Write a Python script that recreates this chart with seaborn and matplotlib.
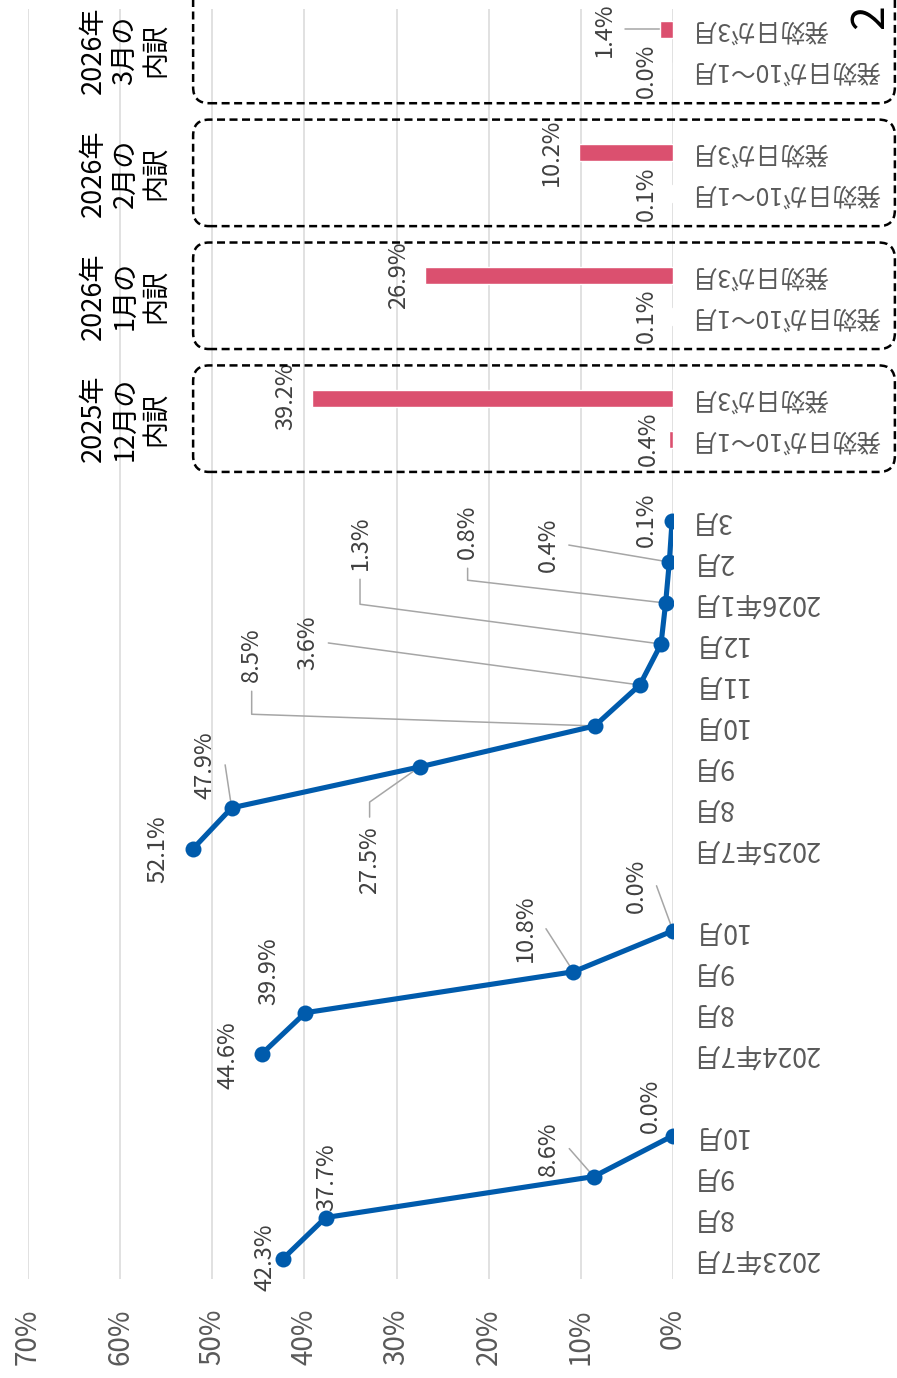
import numpy as np
import pandas as pd
import matplotlib
matplotlib.use("Agg")
import matplotlib.pyplot as plt
import seaborn as sns
from matplotlib.patches import FancyBboxPatch
from matplotlib.transforms import IdentityTransform

# category slots along the vertical axis, bottom to top ("" = empty slot)
categories = ["2023年7月", "8月", "9月", "10月", "",
              "2024年7月", "8月", "9月", "10月", "",
              "2025年7月", "8月", "9月", "10月", "11月", "12月", "2026年1月", "2月", "3月", "",
              "発効日が10〜1月", "発効日が3月", "",
              "発効日が10〜1月", "発効日が3月", "",
              "発効日が10〜1月", "発効日が3月", "",
              "発効日が10〜1月", "発効日が3月"]

series_names = ["2023", "2024", "2025"]
line_2023 = [42.3, 37.7, 8.6, 0.0]
line_2024 = [44.6, 39.9, 10.8, 0.0]
line_2025 = [52.1, 47.9, 27.5, 8.5, 3.6, 1.3, 0.8, 0.4, 0.1]

group_labels = ["2025年\n12月の\n内訳", "2026年\n1月の\n内訳", "2026年\n2月の\n内訳", "2026年\n3月の\n内訳"]
bar_early = [0.4, 0.1, 0.1, 0.0]     # 発効日が10〜1月
bar_march = [39.2, 26.9, 10.2, 1.4]  # 発効日が3月

value_ticks = [0, 10, 20, 30, 40, 50, 60, 70]

BLUE = "#005bac"
PINK = "#db506f"
GRID = "#d9d9d9"
LEADER = "#a6a6a6"

# label layout: pixel offset (right, down) from the point, leader type, stub length
line_label_layout = [
    (-18, -1, None, 0), (1, -40, None, 0), (-45, -28, "right", 0), (-23, -30, None, 0),
    (-34, 2, None, 0), (-37, -42, None, 0), (-48, -43, "right", 0), (-37, -45, "right", 0),
    (-35, 0, None, 0), (-27, -43, "right", 0), (-50, 93, "top", 15), (-343, -71, "bottom", 23),
    (-332, -42, "right", 0), (-301, -101, "bottom", 25), (-198, -71, "bottom", 12),
    (-121, -17, "right", 0), (-26, -1, None, 0),
]
bar_label_layout = [
    (-21, 0, None, 0), (-26, -2, None, 0), (-26, 0, None, 0), (-27, 0, None, 0),
    (-26, 0, None, 0), (-28, 0, None, 0), (-27, 0, None, 0), (-56, 0, "right", 0),
]

# build tables
slots = [i for i, c in enumerate(categories) if c]
line_vals = line_2023 + line_2024 + line_2025
line_series = (["2023"] * len(line_2023) + ["2024"] * len(line_2024) + ["2025"] * len(line_2025))
df_line = pd.DataFrame({"slot": slots[:len(line_vals)], "value": line_vals, "series": line_series})

bar_vals = [v for pair in zip(bar_early, bar_march) for v in pair]
df_bar = pd.DataFrame({"slot": slots[len(line_vals):], "value": bar_vals})

sns.set_theme(style="white")
plt.rcParams["font.family"] = ["Noto Sans CJK JP", "DejaVu Sans"]

W, H = 897, 1378
fig = plt.figure(figsize=(W / 100, H / 100), dpi=100)
ax = fig.add_axes([28 / W, 1 - 1279 / H, (673 - 28) / W, (1279 - 9) / H])

sns.barplot(data=df_bar, x="value", y="slot", orient="y", native_scale=True,
            color=PINK, saturation=1, width=0.42, errorbar=None, ax=ax, zorder=3)
sns.lineplot(data=df_line, x="value", y="slot", hue="series", orient="y",
             palette={s: BLUE for s in series_names}, sort=False, estimator=None,
             marker="o", markersize=11.5, markeredgewidth=0, linewidth=3.7,
             legend=False, ax=ax, zorder=4)

ax.set_xlim(70, 0)
ax.set_ylim(-0.5, len(categories) - 0.5)
for s in ax.spines.values():
    s.set_visible(False)
ax.set_xticks(value_ticks)
ax.set_xticklabels([f"{v}%" for v in value_ticks])
ax.grid(axis="x", color=GRID, linewidth=1.1)
ax.grid(axis="y", visible=False)
ax.set_axisbelow(True)
ax.set_xlabel("")
ax.set_ylabel("")
ax.tick_params(axis="x", length=0, pad=21, labelsize=20, labelcolor="#595959", labelrotation=90)

ax.yaxis.tick_right()
ax.set_yticks(slots)
ax.set_yticklabels([c for c in categories if c])
ax.tick_params(axis="y", length=0, pad=13, labelsize=19.3, labelcolor="#595959")
for lab in ax.get_yticklabels():
    lab.set_rotation(180)
    lab.set_ha("left")
    lab.set_va("center")
    if lab.get_text().startswith("発効日"):
        lab.set_fontsize(17.8)

# data labels
label_items = []
for (s, v), lay in zip(zip(df_line["slot"], df_line["value"]), line_label_layout):
    label_items.append((s, v, lay))
for (s, v), lay in zip(zip(df_bar["slot"], df_bar["value"]), bar_label_layout):
    label_items.append((s, v, lay))

texts = []
for s, v, (dx, dy, kind, stub) in label_items:
    t = ax.annotate(f"{v:.1f}%", xy=(v, s), xytext=(dx, -dy), textcoords="offset pixels",
                    rotation=90, ha="center", va="center", fontsize=17, color="#404040",
                    zorder=6, annotation_clip=False)
    texts.append((t, s, v, kind, stub))

# group labels and dashed boxes
group_slots = [slots[len(line_vals) + 2 * k: len(line_vals) + 2 * k + 2] for k in range(len(group_labels))]
for lab, (a, b) in zip(group_labels, group_slots):
    ax.text(59.5, (a + b) / 2, lab, rotation=90, ha="center", va="center",
            multialignment="center", fontsize=19.5, color="black", linespacing=1.2)

fig.text(870 / W, 1 - 17 / H, "2", rotation=90, ha="center", va="center", fontsize=32, color="black")

fig.canvas.draw()
renderer = fig.canvas.get_renderer()
inv = ax.transData.inverted()

gap = 9
for t, s, v, kind, stub in texts:
    if kind is None:
        continue
    bb = t.get_window_extent(renderer)
    px, py = ax.transData.transform((v, s))
    cx, cy = (bb.x0 + bb.x1) / 2, (bb.y0 + bb.y1) / 2
    if kind == "right":
        pts = [(bb.x1 + gap, cy), (px, py)]
    elif kind == "bottom":
        pts = [(cx, bb.y0 - gap), (cx, bb.y0 - gap - stub), (px, py)]
    else:
        pts = [(cx, bb.y1 + gap), (cx, bb.y1 + gap + stub), (px, py)]
    dpts = inv.transform(pts)
    ax.plot(dpts[:, 0], dpts[:, 1], color=LEADER, linewidth=1.1, zorder=2, clip_on=False)

x_left = ax.transAxes.transform((0.256, 0))[0]
x_right = ax.transAxes.transform((1.344, 0))[0]
radius = 16
for a, b in group_slots:
    y0 = ax.transData.transform((0, a - 0.8))[1]
    y1 = ax.transData.transform((0, b + 0.8))[1]
    if y1 > H - radius:
        # box runs off the top of the page: no rounded corner visible
        y1 = H + 3 * radius
    box = FancyBboxPatch((x_left, y0), x_right - x_left, y1 - y0,
                         boxstyle=f"round,pad=0,rounding_size={radius}", fill=False,
                         edgecolor="black", linewidth=1.8, linestyle=(0, (3.2, 1.8)),
                         transform=IdentityTransform(), zorder=5)
    fig.add_artist(box)

fig.savefig("out.png", dpi=100)
